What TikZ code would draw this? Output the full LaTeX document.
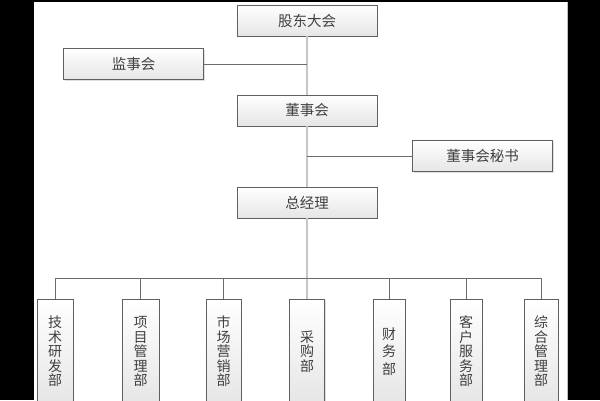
\documentclass[tikz,border=0pt]{standalone}
\usepackage{fontspec}
\newfontfamily\cjk{Noto Sans CJK SC}
\usetikzlibrary{shadows}
\tikzset{
  box/.style={draw=gray!75!black, line width=.8pt, top color=white, bottom color=gray!20,
    drop shadow={shadow xshift=1.2pt, shadow yshift=-1.2pt, opacity=.25},
    text=black!75, inner sep=0pt},
  hbox/.style={box, minimum width=140pt, minimum height=31pt, font=\cjk\fontsize{14.5}{16}\selectfont},
  vbox/.style={box, minimum height=105pt, align=center, font=\cjk\fontsize{14}{14.5}\selectfont},
  trunk/.style={draw=gray!45, line width=1.3pt},
  link/.style={draw=gray!85!black, line width=.9pt},
}
\begin{document}
\begin{tikzpicture}[x=1pt, y=-1pt]
  \useasboundingbox (0,0) rectangle (600,400);
  \clip (0,0) rectangle (600,400);
  \fill[black] (0,0) rectangle (600,400);
  \fill[white] (34,1.5) rectangle (567,400);
  \draw[gray!50, line width=1pt] (567,1.5) -- (567,400);

  % upper levels
  \node[hbox] (gd)  at (307,20.5)  {股东大会};
  \node[hbox] (jsh) at (133.5,64)  {监事会};
  \node[hbox] (dsh) at (307,110.5) {董事会};
  \node[hbox] (ms)  at (482.5,156) {董事会秘书};
  \node[hbox] (zjl) at (307,202.5) {总经理};

  % departments
  \foreach \n/\x/\w/\t in {1/55/36/{技\\术\\研\\发\\部}, 2/140.5/37/{项\\目\\管\\理\\部},
      3/223.5/35/{市\\场\\营\\销\\部}, 4/307/35/{采\\购\\部}, 5/389/32/{财\\[3pt]务\\[3pt]部},
      6/466/32/{客\\户\\服\\务\\部}, 7/541/34/{综\\合\\管\\理\\部}}
    \node[vbox, minimum width=\w pt] (d\n) at (\x,351.5) {\t};

  \coordinate (bus) at (307,278);
  \draw[trunk] (gd) -- (dsh);
  \draw[trunk] (dsh) -- (zjl);
  \draw[trunk] (zjl) -- (d4);
  \draw[link] (jsh) -- (jsh -| gd);
  \draw[link] (ms) -- (ms -| dsh);
  \draw[link] (d1.north |- bus) -- (d7.north |- bus);
  \foreach \n in {1,2,3,5,6,7} \draw[link] (d\n) -- (d\n.north |- bus);
\end{tikzpicture}
\end{document}
